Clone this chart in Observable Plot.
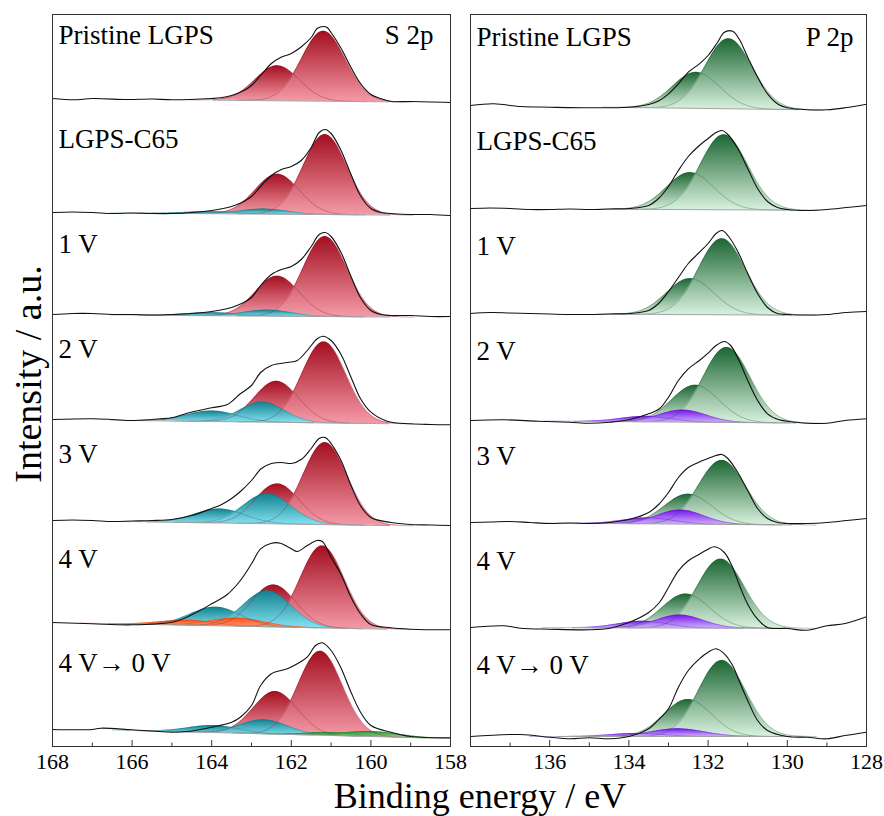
<!DOCTYPE html>
<html><head><meta charset="utf-8">
<script src="https://cdn.jsdelivr.net/npm/d3@7"></script>
<script src="https://cdn.jsdelivr.net/npm/@observablehq/plot@0.6"></script>
<style>
body{margin:0;background:#fff;}
#fig{position:relative;width:884px;height:816px;background:#fff;font-family:'Liberation Serif','Tinos','Times New Roman','DejaVu Serif',serif;color:#000;overflow:hidden;}
#fig svg{position:absolute;top:0;overflow:visible;}
#fig svg text{font-family:'Liberation Serif','Tinos','Times New Roman','DejaVu Serif',serif;}
.ytitle{position:absolute;left:28px;top:374px;transform:translate(-50%,-50%) rotate(-90deg);font-size:38px;line-height:38px;white-space:nowrap;}
.xtitle{position:absolute;left:480px;top:778px;transform:translateX(-50%);font-size:36px;line-height:36px;white-space:nowrap;}
</style>
</head><body>
<div id="fig">
  <div class="ytitle">Intensity / a.u.</div>
  <div class="xtitle">Binding energy / eV</div>
</div>
<script>
// ---------------- S 2p panel data ----------------
const S_labels = ["Pristine LGPS","LGPS-C65","1 V","2 V","3 V","4 V","4 V\u2192 0 V"];
const S_offsets = [648, 534, 432, 327, 226, 124, 17];
const S_bg = [[0,-4],[0,-3],[0,-3],[0,-5],[0,-6],[0,-8],[1,-9]]; // background at 168 eV, 158 eV
const S_traces = [
  [[168,0],[167.46,-1.3],[167,0],[166.21,-1],[166,-1],[165.5,-0.5],[165,-1.3],[164,0],[163.78,0.7],[163.5,3],[163.19,8],[163,13],[162.77,23],[162.5,35],[162.27,41],[162,45],[161.77,51],[161.5,61],[161.35,70],[161.18,72],[161.1,71],[161,66],[160.76,51],[160.5,31],[160.26,15],[160,4],[159.76,0],[159.5,-3],[159,-3],[158,-4]],
  [[168,0],[167.5,0.5],[167,0],[166.5,-1],[166,-0.5],[165.5,-1],[165,-1],[164.5,0],[164,2],[163.5,6],[163.25,10],[163,16],[162.75,27],[162.5,37],[162.25,43],[162,46],[161.75,52],[161.5,65],[161.3,80],[161.15,83],[161,79],[160.75,62],[160.5,38],[160.25,16],[160,4],[159.75,0],[159.5,-1],[159,-2],[158.5,-2],[158,-3]],
  [[168,0],[167.5,1],[167,1],[166.5,0],[166,0],[165.5,-0.5],[165,0],[164.5,1],[164,3],[163.5,7],[163.25,11],[163,17],[162.75,30],[162.5,40],[162.25,45],[162,48],[161.75,55],[161.5,68],[161.3,80],[161.15,82],[161,78],[160.75,62],[160.5,38],[160.25,16],[160,4],[159.75,0],[159.5,-1],[159,-1],[158.5,-2],[158,-2]],
  [[168,0],[167,0.7],[166.5,0],[166,-1],[165.5,0],[165.29,0.7],[165,1.7],[164.62,6.3],[164,11.7],[163.61,15],[163.28,25.7],[163,34],[162.77,47],[162.5,54],[162.1,57],[161.85,59],[161.6,69],[161.35,80.7],[161.2,83.3],[161,79],[160.76,65.7],[160.5,42.3],[160.26,20.7],[160,7.3],[159.59,-1.7],[159,-4.3],[158.5,-5],[158,-5.3]],
  [[168,0],[167.5,0.5],[167,0],[166.5,-1],[166,-0.5],[165.5,0],[165,1],[164.5,5],[164,12],[163.75,16],[163.5,22],[163.25,30],[163,40],[162.75,52],[162.5,57],[162.25,58],[162,57],[161.75,61],[161.5,72],[161.3,82],[161.15,83],[161,77],[160.75,60],[160.5,35],[160.25,14],[160,3],[159.5,-2],[159,-4],[158.5,-4.5],[158,-5]],
  [[168,0],[167,-1.3],[166,-2.3],[165,0.3],[164.78,2.7],[164.45,8.7],[164,18.7],[163.61,28],[163.28,42],[163,58.7],[162.77,73.7],[162.5,79.3],[162.27,79.3],[162,73.7],[161.85,71],[161.6,77],[161.35,82],[161.22,81],[161,65.3],[160.76,48.7],[160.5,25.3],[160.26,8.7],[160,-2],[159.5,-5.3],[159,-6.7],[158,-7.3]],
  [[168,0],[167,0],[166.79,1.3],[166,-0.3],[165,-2.7],[164.62,-2],[164,2.3],[163.5,7.3],[163.28,12.3],[163,24],[162.77,44],[162.5,55.7],[162.1,60.7],[161.85,65.7],[161.6,72.3],[161.39,84],[161.22,86.7],[161,79],[160.76,62.3],[160.5,37.3],[160.26,17.3],[160,4],[159.5,-2.7],[159,-7],[158,-8.3]]
];
// fitted components: [family, centre eV, FWHM eV, height]
const S_components = [
  [["red",162.35,1.3,35],["red",161.19,1.3,70]],
  [["red",162.35,1.3,40],["red",161.15,1.3,80],["cyan",164.0,1.5,2],["cyan",162.7,1.4,5]],
  [["red",162.35,1.3,40],["red",161.15,1.3,80],["cyan",164.0,1.5,3],["cyan",162.6,1.4,6]],
  [["red",162.37,1.3,41],["red",161.18,1.3,81],["cyan",163.99,1.5,10.5],["cyan",162.73,1.3,20]],
  [["red",162.35,1.3,40],["red",161.15,1.3,82],["cyan",163.8,1.5,14],["cyan",162.6,1.4,30]],
  [["red",162.44,1.3,42],["red",161.22,1.3,82],["cyan",163.9,1.5,18.6],["cyan",162.6,1.4,36],["orange",164.6,1.6,5],["orange",163.36,1.6,8]],
  [["red",162.4,1.3,42.6],["red",161.27,1.3,84],["cyan",163.95,1.5,7],["cyan",162.69,1.4,14],["green",161.0,1.4,3],["green",160.0,1.6,5]]
];
const S_ticks = [168,166,164,162,160,158];
const S_minor = [167,165,163,161,159];

// ---------------- P 2p panel data ----------------
const P_labels = ["Pristine LGPS","LGPS-C65","1 V","2 V","3 V","4 V","4 V\u2192 0 V"];
const P_offsets = [641, 538, 433, 326, 224, 119, 10];
const P_bg = [[0,-5],[0,-2],[0,-2],[0,-3],[0,-3],[0,-1],[0,0]]; // background at 138 eV, 128 eV
const P_traces = [
  [[138,0],[137.41,1.7],[136.74,-1],[136,-1.7],[135,-2.3],[134,-1.7],[133.5,1],[133.23,5],[133,11.7],[132.75,21.7],[132.5,33.3],[132.22,41.7],[132,50],[131.76,63.3],[131.59,73.3],[131.38,74.3],[131.22,66.7],[131,48.3],[130.75,28.3],[130.5,11.7],[130.21,0.7],[130,-2.3],[129.5,-4.3],[129,-4.3],[128.54,-2.3],[128,1.2]],
  [[138,0],[137.5,0.5],[137,0],[136.5,-1],[136,-1],[135.5,-0.5],[135,-1],[134.5,-0.5],[134,0],[133.5,3],[133.25,10],[133,22],[132.75,38],[132.5,52],[132.25,62],[132,70],[131.8,76],[131.65,78],[131.5,74],[131.25,60],[131,40],[130.75,20],[130.5,7],[130.25,1],[130,-1],[129.5,-2],[129,-1],[128.5,1],[128,3]],
  [[138,0],[137.5,1],[137,0.5],[136.5,0],[136,-0.5],[135.5,-1],[135,-1],[134.5,-0.5],[134,0],[133.5,3],[133.25,10],[133,22],[132.75,36],[132.5,50],[132.25,60],[132,70],[131.8,80],[131.65,83],[131.5,78],[131.25,62],[131,40],[130.75,20],[130.5,6],[130.25,0],[130,-1],[129.5,-1.5],[129,-1],[128.5,1],[128,2]],
  [[138,0],[137.16,0.7],[136.3,-0.7],[135.5,-1.7],[135,-2.7],[134.48,-1.7],[134,0.7],[133.5,6.7],[133.23,11.7],[133,23.3],[132.75,40],[132.5,51.7],[132.22,60],[132,67.3],[131.8,75],[131.59,79],[131.43,75],[131.22,60],[131,40],[130.75,20],[130.5,6.7],[130.21,0.7],[130,-0.7],[129.5,-2.7],[129,-2.7],[128.54,0],[128,1.7]],
  [[138,0],[137.5,0.5],[137,1],[136.5,0],[136,-1],[135.5,-0.5],[135,-1],[134.5,0],[134,3],[133.5,10],[133.25,18],[133,30],[132.75,45],[132.5,55],[132.25,60],[132,64],[131.8,67],[131.65,68],[131.5,64],[131.25,50],[131,32],[130.75,14],[130.5,4],[130.25,0],[130,-1],[129.5,-1],[129,0],[128.5,2],[128,4]],
  [[138,0],[137.16,1.7],[136.74,-0.7],[136,-1.7],[135,-2.3],[134.48,-0.7],[134,5],[133.5,15],[133.23,25],[133,40],[132.75,56.7],[132.5,66.7],[132.22,73.3],[132,78.3],[131.84,80.7],[131.59,75],[131.38,60],[131.22,43.3],[131,23.3],[130.75,8.3],[130.5,0],[130,-1],[129.5,-2.7],[129,1.7],[128.54,4],[128,10.7]],
  [[138,0],[136.74,2],[136,-0.7],[135.49,-2.3],[135,-1.3],[134.48,-2.3],[134,0],[133.5,7.7],[133.23,17.7],[133,27.7],[132.75,49.3],[132.5,66],[132.22,77.7],[132,84.3],[131.8,87.7],[131.59,82.7],[131.38,71],[131.22,56],[131,36],[130.75,16],[130.5,6],[130,0],[129.5,-0.7],[129,-2.3],[128.54,1],[128,4.3]]
];
const P_components = [
  [["pg",132.3,1.4,36],["pg",131.48,1.4,70]],
  [["pg",132.45,1.4,37],["pg",131.6,1.4,75]],
  [["pg",132.45,1.4,36],["pg",131.65,1.4,76]],
  [["pg",132.32,1.4,37],["pg",131.53,1.4,75],["pu",133.56,1.5,5.5],["pu",132.64,1.4,12]],
  [["pg",132.5,1.4,30],["pg",131.65,1.4,64],["pu",133.5,1.5,6],["pu",132.7,1.4,14]],
  [["pg",132.56,1.4,34],["pg",131.68,1.4,69],["pu",133.64,1.5,6.7],["pu",132.72,1.4,13]],
  [["pg",132.51,1.4,37],["pg",131.65,1.4,76],["pu",133.8,1.6,3],["pu",132.77,1.6,7.7]]
];
const P_ticks = [136,134,132,130,128];
const P_minor = [137,135,133,131,129];

// ---------------- styles ----------------
const FONT = "'Liberation Serif','Tinos','Times New Roman','DejaVu Serif',serif";
const families = ["red","cyan","orange","green","pg","pu"];
const gradColors = {
  red:["#a30f20","#f59aa7"], cyan:["#10808f","#86e3f2"], orange:["#ff4f14","#ffa27a"],
  green:["#2b8c2e","#9be59a"], pg:["#1c6632","#d8f1de"], pu:["#7414ea","#cfaeff"]
};
const strokeColors = {red:"#8a1525",cyan:"#0f6a76",orange:"#c8400c",green:"#236f25",pg:"#1a5a2c",pu:"#5a0fb8"};

function panel(o){
  const [xHi, xLo] = o.domain;
  const bgAt = (i,E) => o.bg[i][0] + (o.bg[i][1]-o.bg[i][0])*(xHi-E)/(xHi-xLo);
  const traceRows = o.traces.flatMap((t,i)=>t.map(([E,h])=>({E, y:o.offsets[i]+h, s:i})));
  const compRows = [];
  const bgRows = [];
  o.comps.forEach((list,i)=>{
    let lo = Infinity, hi = -Infinity;
    list.forEach(([fam,c,w,h],k)=>{
      const sig = w/2.3548;
      const a = Math.max(xLo, c-1.7*w), b = Math.min(xHi, c+1.7*w);
      lo = Math.min(lo, c-1.25*w); hi = Math.max(hi, c+1.25*w);
      for (let E=a; E<=b+1e-9; E+=0.03){
        const base = o.offsets[i]+bgAt(i,E);
        compRows.push({fam, id:`${i}-${k}`, E, y1:base, y2:base + h*Math.exp(-((E-c)**2)/(2*sig*sig))});
      }
    });
    for (let E=Math.max(lo,xLo); E<=Math.min(hi,xHi); E+=0.1) bgRows.push({s:i, E, y:o.offsets[i]+bgAt(i,E)});
  });
  const marks = [];
  for (const fam of families){
    const rows = compRows.filter(d=>d.fam===fam);
    if (!rows.length) continue;
    marks.push(Plot.areaY(rows,{x:"E", y1:"y1", y2:"y2", z:"id", fill:`url(#${o.tag}-${fam})`}));
  }
  for (const fam of families){
    const rows = compRows.filter(d=>d.fam===fam);
    if (!rows.length) continue;
    marks.push(Plot.line(rows,{x:"E", y:"y2", z:"id", stroke:strokeColors[fam], strokeWidth:0.7, strokeOpacity:0.5}));
  }
  marks.push(Plot.line(bgRows,{x:"E", y:"y", z:"s", stroke:"#a0a0a0", strokeWidth:1}));
  marks.push(Plot.line(traceRows,{x:"E", y:"y", z:"s", stroke:"#111", strokeWidth:1.1, curve:"catmull-rom"}));
  // sample labels, evenly spaced from the top of the frame
  marks.push(Plot.text(o.labels,{x:xHi, y:(d,i)=>o.labelTop - i*104.8, text:d=>d, textAnchor:"start", lineAnchor:"bottom", dx:6, fontSize:27, fontFamily:FONT}));
  marks.push(Plot.text([o.header],{x:xLo, y:o.labelTop, text:d=>d, textAnchor:"end", lineAnchor:"bottom", dx:o.headerDx, fontSize:27, fontFamily:FONT}));
  marks.push(Plot.ruleX(o.ticks,{x:d=>d, y1:0, y2:6, stroke:"#333", strokeWidth:1}));
  marks.push(Plot.ruleX(o.minor,{x:d=>d, y1:0, y2:3.5, stroke:"#333", strokeWidth:1}));
  marks.push(Plot.text(o.ticks,{x:d=>d, y:0, dy:15, text:d=>String(d), lineAnchor:"middle", fontSize:22, fontFamily:FONT}));
  marks.push(Plot.frame({stroke:"#333", strokeWidth:1}));
  const svg = Plot.plot({
    width:o.width, height:790, marginTop:14, marginBottom:44, marginLeft:o.marginLeft, marginRight:o.marginRight,
    x:{domain:[xHi,xLo], axis:null},
    y:{domain:[0,732], axis:null},
    style:{fontFamily:FONT, background:"transparent", overflow:"visible", color:"#000"},
    marks
  });
  const defs = d3.select(svg).insert("defs",":first-child");
  for (const fam of families){
    const g = defs.append("linearGradient").attr("id",`${o.tag}-${fam}`).attr("x1",0).attr("y1",0).attr("x2",0).attr("y2",1);
    g.append("stop").attr("offset","0%").attr("stop-color",gradColors[fam][0]);
    g.append("stop").attr("offset","100%").attr("stop-color",gradColors[fam][1]);
  }
  svg.style.left = o.left+"px";
  return svg;
}

const fig = document.getElementById("fig");
fig.appendChild(panel({tag:"s", domain:[168,158], offsets:S_offsets, bg:S_bg, traces:S_traces, comps:S_components,
  labels:S_labels, header:"S 2p", headerDx:-17, labelTop:703, ticks:S_ticks, minor:S_minor, width:452, marginLeft:52, marginRight:2, left:0}));
fig.appendChild(panel({tag:"p", domain:[138,128], offsets:P_offsets, bg:P_bg, traces:P_traces, comps:P_components,
  labels:P_labels, header:"P 2p", headerDx:-13, labelTop:701, ticks:P_ticks, minor:P_minor, width:424, marginLeft:10, marginRight:18, left:460}));
</script>
</body></html>
